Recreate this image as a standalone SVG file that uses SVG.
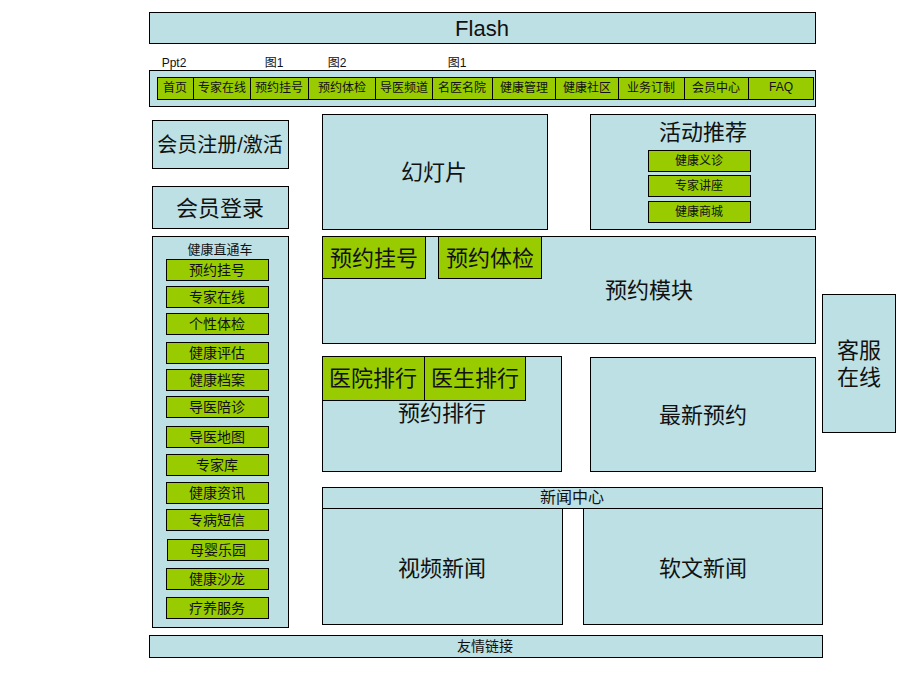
<svg xmlns="http://www.w3.org/2000/svg" width="920" height="690" viewBox="0 0 920 690">
<style>
.b{fill:#BCE0E3;stroke:#000;stroke-width:1}
.g{fill:#99CC00;stroke:#000;stroke-width:1}
text{font-family:"Liberation Sans","Noto Sans CJK SC",sans-serif;fill:#111;text-anchor:middle;dominant-baseline:central}
.s12{font-size:12px}
.s13{font-size:13px}
.s14{font-size:14px}
.s16{font-size:16px}
.s18{font-size:20px}
.s20{font-size:22px}
</style>
<rect width="920" height="690" fill="#fff"/>
<g id="flash"><rect class="b" x="149.5" y="12.5" width="666" height="31"/><text x="482" y="28" style="font-size:22px">Flash</text></g>
<g id="labels">
<text class="s12" x="174" y="63">Ppt2</text>
<text class="s12" x="274" y="63">图1</text>
<text class="s12" x="337" y="63">图2</text>
<text class="s12" x="457" y="63">图1</text>
</g>
<g id="nav">
<rect class="b" x="149.5" y="70.5" width="666" height="36"/>
<rect class="g" x="157.5" y="77.5" width="656" height="22"/>
<g stroke="#000">
<line x1="193.5" y1="77.5" x2="193.5" y2="99.5"/><line x1="250.5" y1="77.5" x2="250.5" y2="99.5"/>
<line x1="308.5" y1="77.5" x2="308.5" y2="99.5"/><line x1="375.5" y1="77.5" x2="375.5" y2="99.5"/>
<line x1="432.5" y1="77.5" x2="432.5" y2="99.5"/><line x1="492.5" y1="77.5" x2="492.5" y2="99.5"/>
<line x1="555.5" y1="77.5" x2="555.5" y2="99.5"/><line x1="618.5" y1="77.5" x2="618.5" y2="99.5"/>
<line x1="684.5" y1="77.5" x2="684.5" y2="99.5"/><line x1="748.5" y1="77.5" x2="748.5" y2="99.5"/>
</g>
<text class="s12" x="175" y="88">首页</text>
<text class="s12" x="222" y="88">专家在线</text>
<text class="s12" x="279" y="88">预约挂号</text>
<text class="s12" x="342" y="88">预约体检</text>
<text class="s12" x="404" y="88">导医频道</text>
<text class="s12" x="462" y="88">名医名院</text>
<text class="s12" x="524" y="88">健康管理</text>
<text class="s12" x="587" y="88">健康社区</text>
<text class="s12" x="651" y="88">业务订制</text>
<text class="s12" x="716" y="88">会员中心</text>
<text class="s12" x="781" y="87">FAQ</text>
</g>
<g id="register"><rect class="b" x="152.5" y="120.5" width="136" height="48"/><text class="s18" x="220" y="145">会员注册/激活</text></g>
<g id="login"><rect class="b" x="152.5" y="186.5" width="136" height="42"/><text class="s20" x="220" y="208">会员登录</text></g>
<g id="health-express">
<rect class="b" x="152.5" y="236.5" width="136" height="391"/>
<text class="s13" x="220" y="249">健康直通车</text>
<rect class="g" x="166.5" y="259.5" width="102" height="21"/><text class="s14" x="217" y="270">预约挂号</text>
<rect class="g" x="166.5" y="286.5" width="102" height="21"/><text class="s14" x="217" y="297">专家在线</text>
<rect class="g" x="166.5" y="313.5" width="102" height="21"/><text class="s14" x="217" y="324">个性体检</text>
<rect class="g" x="166.5" y="342.5" width="102" height="21"/><text class="s14" x="217" y="353">健康评估</text>
<rect class="g" x="166.5" y="369.5" width="102" height="21"/><text class="s14" x="217" y="380">健康档案</text>
<rect class="g" x="166.5" y="396.5" width="102" height="21"/><text class="s14" x="217" y="407">导医陪诊</text>
<rect class="g" x="166.5" y="426.5" width="102" height="21"/><text class="s14" x="217" y="437">导医地图</text>
<rect class="g" x="166.5" y="454.5" width="102" height="21"/><text class="s14" x="217" y="465">专家库</text>
<rect class="g" x="166.5" y="482.5" width="102" height="21"/><text class="s14" x="217" y="493">健康资讯</text>
<rect class="g" x="166.5" y="509.5" width="102" height="21"/><text class="s14" x="217" y="520">专病短信</text>
<rect class="g" x="167.5" y="539.5" width="101" height="21"/><text class="s14" x="218" y="550">母婴乐园</text>
<rect class="g" x="166.5" y="568.5" width="102" height="21"/><text class="s14" x="217" y="579">健康沙龙</text>
<rect class="g" x="166.5" y="597.5" width="102" height="21"/><text class="s14" x="217" y="608">疗养服务</text>
</g>
<g id="slides"><rect class="b" x="322.5" y="114.5" width="225" height="115"/><text class="s20" x="434" y="172">幻灯片</text></g>
<g id="activities">
<rect class="b" x="590.5" y="114.5" width="225" height="115"/>
<text class="s20" x="703" y="132">活动推荐</text>
<rect class="g" x="648.5" y="150.5" width="102" height="21"/><text class="s12" x="699" y="161">健康义诊</text>
<rect class="g" x="648.5" y="175.5" width="102" height="21"/><text class="s12" x="699" y="186">专家讲座</text>
<rect class="g" x="648.5" y="201.5" width="102" height="21"/><text class="s12" x="699" y="212">健康商城</text>
</g>
<g id="booking">
<rect class="b" x="322.5" y="236.5" width="493" height="107"/>
<rect class="g" x="322.5" y="236.5" width="103" height="42"/><text class="s20" x="374" y="258">预约挂号</text>
<rect class="g" x="438.5" y="236.5" width="103" height="42"/><text class="s20" x="490" y="258">预约体检</text>
<text class="s20" x="649" y="290">预约模块</text>
</g>
<g id="customer-service"><rect class="b" x="822.5" y="294.5" width="73" height="138"/><text class="s20" x="859" y="350">客服</text><text class="s20" x="859" y="377">在线</text></g>
<g id="ranking">
<rect class="b" x="322.5" y="356.5" width="239" height="115"/>
<rect class="g" x="322.5" y="356.5" width="102" height="44"/><text class="s20" x="373" y="378">医院排行</text>
<rect class="g" x="424.5" y="356.5" width="101" height="44"/><text class="s20" x="475" y="378">医生排行</text>
<text class="s20" x="442" y="413">预约排行</text>
</g>
<g id="latest"><rect class="b" x="590.5" y="357.5" width="225" height="114"/><text class="s20" x="703" y="415">最新预约</text></g>
<g id="news">
<rect class="b" x="322.5" y="487.5" width="500" height="21"/><text class="s16" x="572" y="497">新闻中心</text>
<rect class="b" x="322.5" y="508.5" width="240" height="116"/><text class="s20" x="442" y="568">视频新闻</text>
<rect class="b" x="583.5" y="508.5" width="239" height="116"/><text class="s20" x="703" y="568">软文新闻</text>
</g>
<g id="links"><rect class="b" x="149.5" y="635.5" width="673" height="22"/><text class="s14" x="485" y="646">友情链接</text></g>
<g id="connectors"></g>
</svg>
